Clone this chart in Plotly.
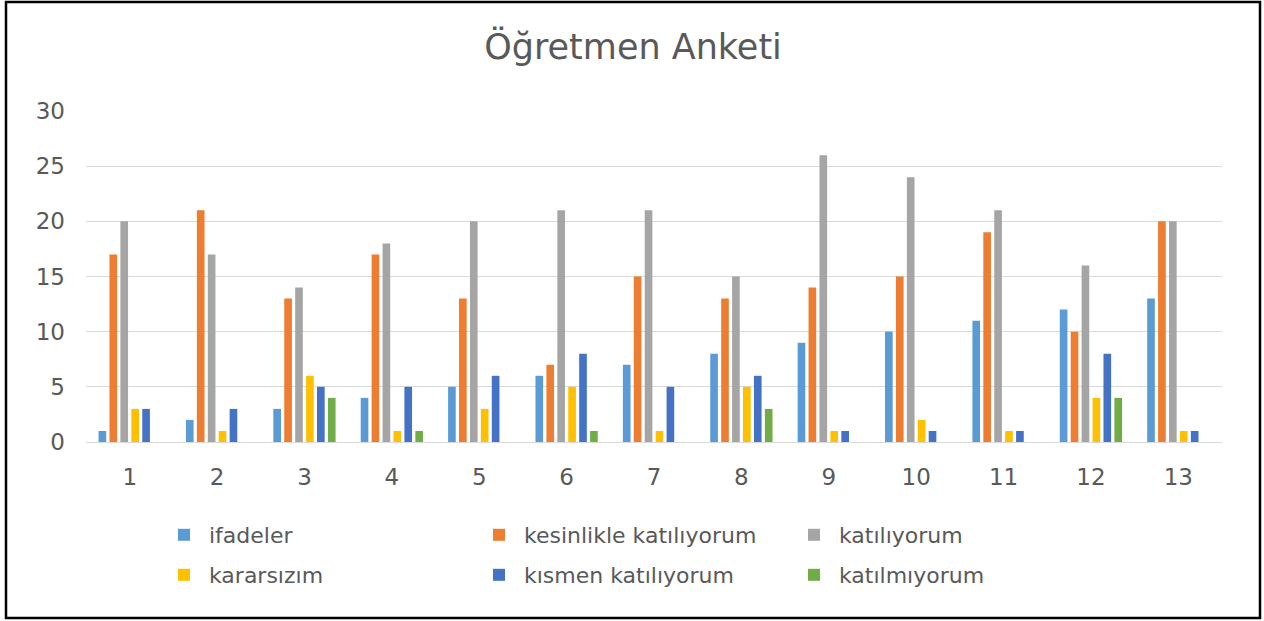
import plotly.graph_objects as go

categories = [str(i) for i in range(1, 14)]
ifadeler = [1, 2, 3, 4, 5, 6, 7, 8, 9, 10, 11, 12, 13]
kesinlikle = [17, 21, 13, 17, 13, 7, 15, 13, 14, 15, 19, 10, 20]
katiliyorum = [20, 17, 14, 18, 20, 21, 21, 15, 26, 24, 21, 16, 20]
kararsizim = [3, 1, 6, 1, 3, 5, 1, 5, 1, 2, 1, 4, 1]
kismen = [3, 3, 5, 5, 6, 8, 5, 6, 1, 1, 1, 8, 1]
katilmiyorum = [0, 0, 4, 1, 0, 1, 0, 3, 0, 0, 0, 4, 0]

series = [
    ("ifadeler", ifadeler, "#5B9BD5", "legend"),
    ("kesinlikle katılıyorum", kesinlikle, "#ED7D31", "legend"),
    ("katılıyorum", katiliyorum, "#A5A5A5", "legend"),
    ("kararsızım", kararsizim, "#FFC000", "legend2"),
    ("kısmen katılıyorum", kismen, "#4472C4", "legend2"),
    ("katılmıyorum", katilmiyorum, "#70AD47", "legend2"),
]

FONT = "DejaVu Sans"
GREY = "#595959"

fig = go.Figure()
for name, vals, color, lg in series:
    fig.add_trace(go.Bar(x=categories, y=vals, name=name, marker_color=color,
                         marker_line_width=0, legend=lg))

W, H = 1264, 621
L, R, T, B = 86, 42, 111, 179
pw, ph = W - L - R, H - T - B

def px_x(p):
    return (p - L) / pw

def px_y(p):
    return (H - B - p) / ph

legend_common = dict(orientation="h", xanchor="left", yanchor="middle",
                     font=dict(family=FONT, size=22, color=GREY),
                     entrywidth=260, entrywidthmode="pixels",
                     itemwidth=40,
                     bgcolor="rgba(0,0,0,0)", itemsizing="constant")

fig.update_layout(
    width=W, height=H,
    margin=dict(l=L, r=R, t=T, b=B),
    paper_bgcolor="white", plot_bgcolor="white",
    barmode="group", bargap=0.25, bargroupgap=0.3,
    title=dict(text="Öğretmen Anketi", x=633 / W, xref="container", xanchor="center",
               y=1 - 47 / H, yanchor="middle",
               font=dict(family=FONT, size=35, color=GREY)),
    xaxis=dict(showgrid=False, showline=True, linecolor="#D9D9D9", linewidth=1,
               ticks="", tickfont=dict(family=FONT, size=23, color=GREY),
               ticklabelstandoff=14),
    yaxis=dict(range=[0, 30], dtick=5, showgrid=True, gridcolor="#D9D9D9",
               gridwidth=1, zeroline=False, showline=False, ticks="",
               tickfont=dict(family=FONT, size=23, color=GREY),
               ticklabelstandoff=20),
    legend=dict(x=px_x(159), y=px_y(535), **legend_common),
    legend2=dict(x=px_x(159), y=px_y(575), **legend_common),
    showlegend=True,
)

fig.add_shape(type="rect", xref="paper", yref="paper",
              x0=px_x(6), x1=px_x(1260), y0=px_y(618), y1=px_y(2),
              line=dict(color="black", width=2.5), fillcolor="rgba(0,0,0,0)")

fig.write_html("out.html", config={"displayModeBar": False},
               post_script="document.body.style.margin='0';")
